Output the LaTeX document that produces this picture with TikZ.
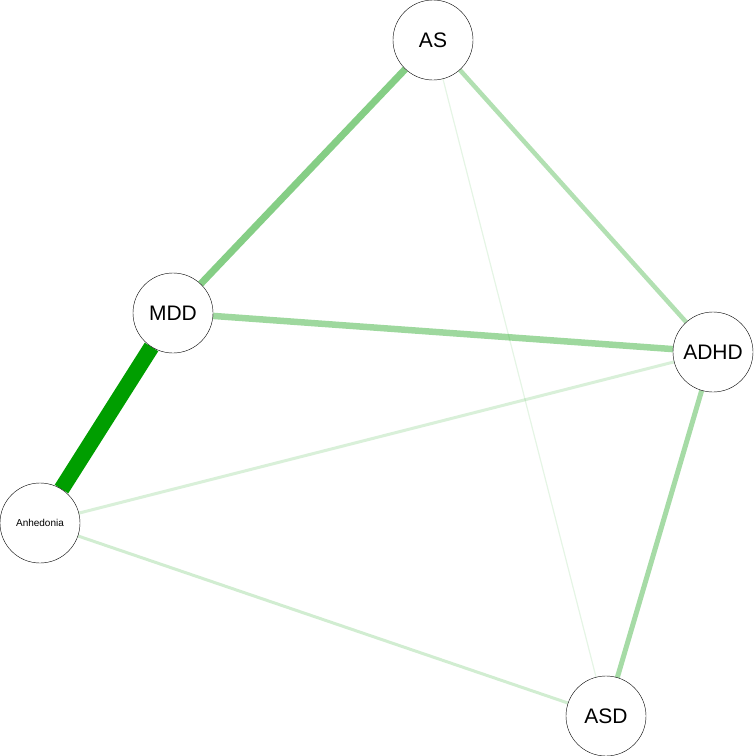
\documentclass[tikz,border=0pt]{standalone}
\usepackage{fontspec}
\setmainfont{Liberation Sans}
\usetikzlibrary{positioning,backgrounds}

\begin{document}
\begin{tikzpicture}
[x=1pt,y=-1pt,every node/.style={circle,draw=black,fill=white,minimum size=80pt,inner sep=0pt,font=\fontsize{21}{25}\selectfont}]
  \tikzstyle{edge}=[draw=green!60!black,line cap=butt]
  \useasboundingbox (0,0) rectangle (756,756);

  \node (AS)  at (433,40)  {AS};
  \node (MDD) at (173,313) {MDD};
  \node (ADHD) at (713,352) {ADHD};
  \node[font=\fontsize{10}{12}\selectfont] (Anh) at (40,523) {Anhedonia};
  \node (ASD) at (606,716) {ASD};

  \begin{scope}[on background layer]
  \path (AS) edge [edge,draw opacity=0.1,line width=1.2pt] (ASD)
        (ADHD) edge [edge,draw opacity=0.15,line width=3pt] (Anh)
        (Anh) edge [edge,draw opacity=0.18,line width=3pt] (ASD)
        (AS) edge [edge,draw opacity=0.3,line width=4.5pt] (ADHD)
        (ADHD) edge [edge,draw opacity=0.35,line width=5pt] (ASD)
        (MDD) edge [edge,draw opacity=0.38,line width=6.5pt] (ADHD)
        (AS) edge [edge,draw opacity=0.48,line width=7pt] (MDD)
        (MDD) edge [edge,draw=green!62!black,line width=16pt] (Anh);
  \end{scope}
\end{tikzpicture}
\end{document}
